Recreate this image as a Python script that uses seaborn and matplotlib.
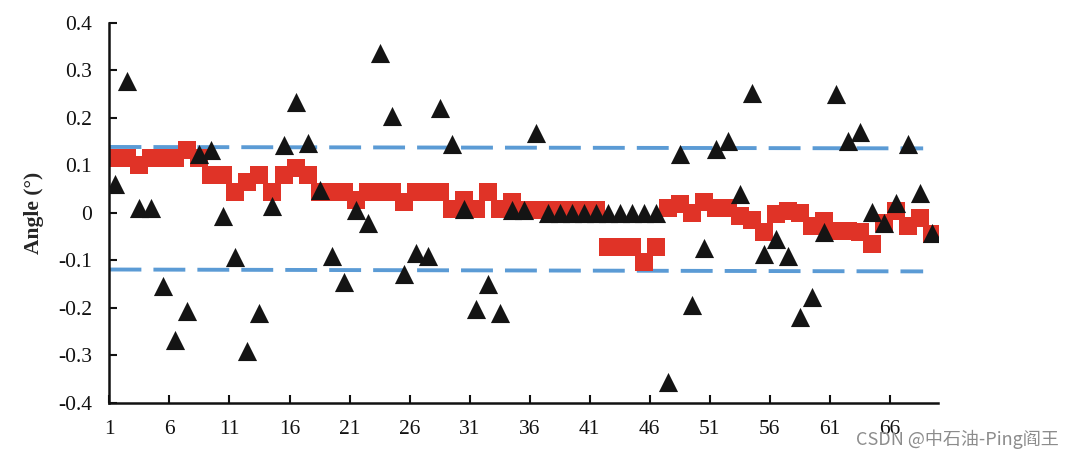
import numpy as np
import pandas as pd
import seaborn as sns
import matplotlib.pyplot as plt

# --- data ---
sample_no = list(range(1, 70))

measured = [
    0.061, 0.277, 0.011, 0.011, -0.154, -0.267, -0.206, 0.124, 0.132, -0.006,
    -0.093, -0.290, -0.210, 0.015, 0.144, 0.233, 0.147, 0.048, -0.090, -0.145,
    0.007, -0.021, 0.337, 0.205, -0.129, -0.084, -0.091, 0.222, 0.145, 0.009,
    -0.202, -0.149, -0.210, 0.007, 0.007, 0.168, 0.0, 0.0, 0.0, 0.0,
    0.0, 0.0, 0.0, 0.0, 0.0, 0.0, -0.355, 0.124, -0.194, -0.074,
    0.135, 0.152, 0.040, 0.252, -0.086, -0.054, -0.090, -0.218, -0.177, -0.041,
    0.250, 0.152, 0.171, 0.002, -0.022, 0.021, 0.145, 0.042, -0.042,
]

smoothed = [
    0.116, 0.116, 0.102, 0.116, 0.116, 0.116, 0.132, 0.115, 0.080, 0.080,
    0.044, 0.065, 0.080, 0.044, 0.080, 0.094, 0.080, 0.044, 0.044, 0.044,
    0.028, 0.044, 0.044, 0.044, 0.023, 0.044, 0.044, 0.044, 0.008, 0.027,
    0.008, 0.044, 0.008, 0.023, 0.007, 0.007, 0.007, 0.007, 0.007, 0.007,
    0.007, -0.072, -0.072, -0.072, -0.103, -0.072, 0.010, 0.018, -0.001, 0.023,
    0.010, 0.010, -0.006, -0.015, -0.039, -0.003, 0.005, 0.001, -0.028, -0.017,
    -0.037, -0.037, -0.040, -0.065, -0.022, 0.005, -0.028, -0.010, -0.044,
]

limit_x = [0.5, 68.3]
upper_limit = [0.139, 0.136]
lower_limit = [-0.119, -0.123]

tick_labels = ["1", "6", "11", "16", "21", "26", "31", "36", "41", "46", "51", "56", "61", "66"]
y_ticks = [-0.4, -0.3, -0.2, -0.1, 0, 0.1, 0.2, 0.3, 0.4]

df = pd.DataFrame({"sample": sample_no, "measured": measured, "smoothed": smoothed})
limits = pd.DataFrame({"x": limit_x, "upper": upper_limit, "lower": lower_limit})

sns.set_style("ticks")
plt.rcParams["font.family"] = ["Liberation Serif", "DejaVu Serif"]

fig = plt.figure(figsize=(10.75, 4.57), dpi=100)
ax = fig.add_axes([0.1014, 0.1182, 0.7712, 0.8315])

blue = "#5B9BD5"
for col in ["upper", "lower"]:
    sns.lineplot(data=limits, x="x", y=col, ax=ax, color=blue, linewidth=2.8,
                 dashes=False, zorder=1)
for line in ax.lines:
    line.set_dashes([8.2, 3.1])
    line.set_dash_capstyle("butt")

sns.scatterplot(data=df, x="sample", y="smoothed", ax=ax, marker="s", s=160,
                color="#E03327", linewidth=0, zorder=2)
sns.scatterplot(data=df, x="sample", y="measured", ax=ax, marker="^", s=190,
                color="#141414", linewidth=0, zorder=3)

ax.set_xlim(0.46, 69.54)
ax.set_ylim(-0.4, 0.4)
ax.set_xticks([int(t) - 0.5 for t in tick_labels])
ax.set_xticklabels(tick_labels)
ax.set_yticks(y_ticks)
ax.set_yticklabels([f"{v:g}" for v in y_ticks])
ax.tick_params(direction="in", length=6, width=1.5, labelsize=15.5, pad=12,
               colors="#111111")
ax.tick_params(axis="y", pad=12)

for side in ["top", "right"]:
    ax.spines[side].set_visible(False)
for side in ["left", "bottom"]:
    ax.spines[side].set_linewidth(1.8)
    ax.spines[side].set_color("#111111")

ax.set_xlabel("")
ax.set_ylabel("Angle (°)", fontsize=15.5, fontweight="bold", labelpad=10)

fig.text(0.985, 0.04, "CSDN @中石油-Ping阎王", ha="right", va="center", fontsize=13,
         color="#8c8c8c", family=["Noto Sans CJK SC", "DejaVu Sans"])

fig.savefig("out.png", dpi=100)
